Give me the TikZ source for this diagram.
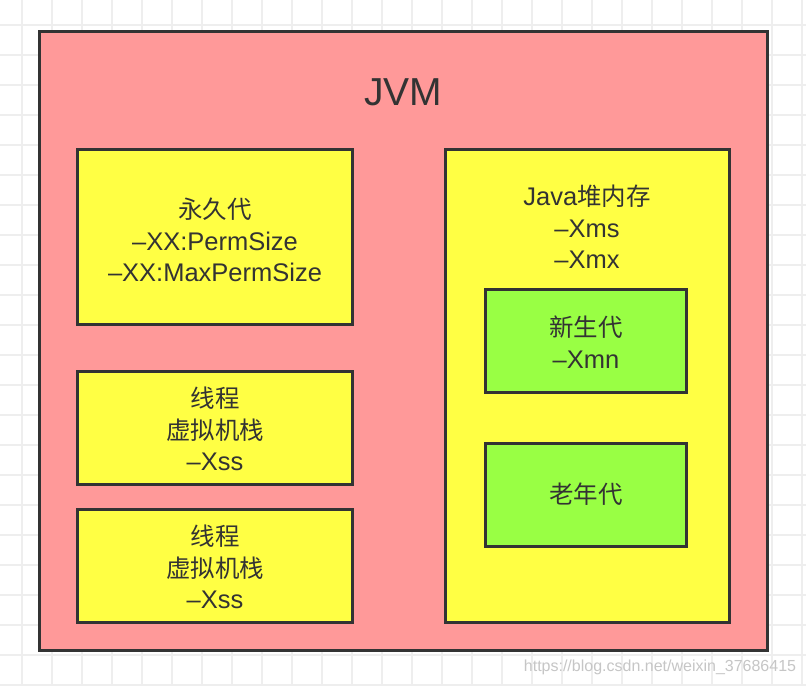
\documentclass[tikz,border=0pt]{standalone}
\usepackage{fontspec}
\setmainfont{Liberation Sans}
\newfontfamily\cjk[Scale=0.96]{Noto Sans CJK SC}
\definecolor{bordc}{HTML}{333333}
\definecolor{pinkc}{HTML}{FF9999}
\definecolor{yelc}{HTML}{FFFF44}
\definecolor{grnc}{HTML}{99FF44}
\definecolor{gridc}{HTML}{EEEEEE}
\definecolor{txtc}{HTML}{333333}
\begin{document}
\begin{tikzpicture}[x=1pt,y=-1pt,
  boxst/.style={draw=bordc,line width=3pt},
  lbl/.style={text=txtc,align=center,font=\fontsize{25.5}{31.5}\selectfont,inner sep=0pt}]
\useasboundingbox (0,0) rectangle (806,686);
\fill[white] (0,0) rectangle (806,686);
\foreach \i in {0,...,26} {\draw[gridc,line width=1.5pt] ({22+30*\i},0) -- ({22+30*\i},686);}
\foreach \i in {0,...,22} {\draw[gridc,line width=1.5pt] (0,{25+30*\i}) -- (806,{25+30*\i});}
% boxes
\draw[boxst,fill=pinkc] (39,31) rectangle (767,650);
\draw[boxst,fill=yelc] (77,149) rectangle (352,324);
\draw[boxst,fill=yelc] (77,371) rectangle (352,484);
\draw[boxst,fill=yelc] (77,509) rectangle (352,622);
\draw[boxst,fill=yelc] (445,149) rectangle (729,622);
\draw[boxst,fill=grnc] (485,289) rectangle (686,392);
\draw[boxst,fill=grnc] (485,443) rectangle (686,546);
% texts
\node[lbl,font=\fontsize{39}{44}\selectfont] (jvm) at (403,92) {JVM};
\node[lbl] (perm) at (215,240) {{\cjk 永久代}\\–XX:PermSize\\–XX:MaxPermSize};
\node[lbl] (vm1) at (215,429) {{\cjk 线程}\\{\cjk 虚拟机栈}\\–Xss};
\node[lbl] (vm2) at (215,567) {{\cjk 线程}\\{\cjk 虚拟机栈}\\–Xss};
\node[lbl] (heap) at (587,227) {Java{\cjk 堆内存}\\–Xms\\–Xmx};
\node[lbl] (young) at (586,342) {{\cjk 新生代}\\–Xmn};
\node[lbl] (old) at (586,494) {{\cjk 老年代}};
\node[text=gray!45,font=\fontsize{16}{18}\selectfont,inner sep=0pt] (wm) at (660,667) {https://blog.csdn.net/weixin\_37686415};
\end{tikzpicture}
\end{document}
